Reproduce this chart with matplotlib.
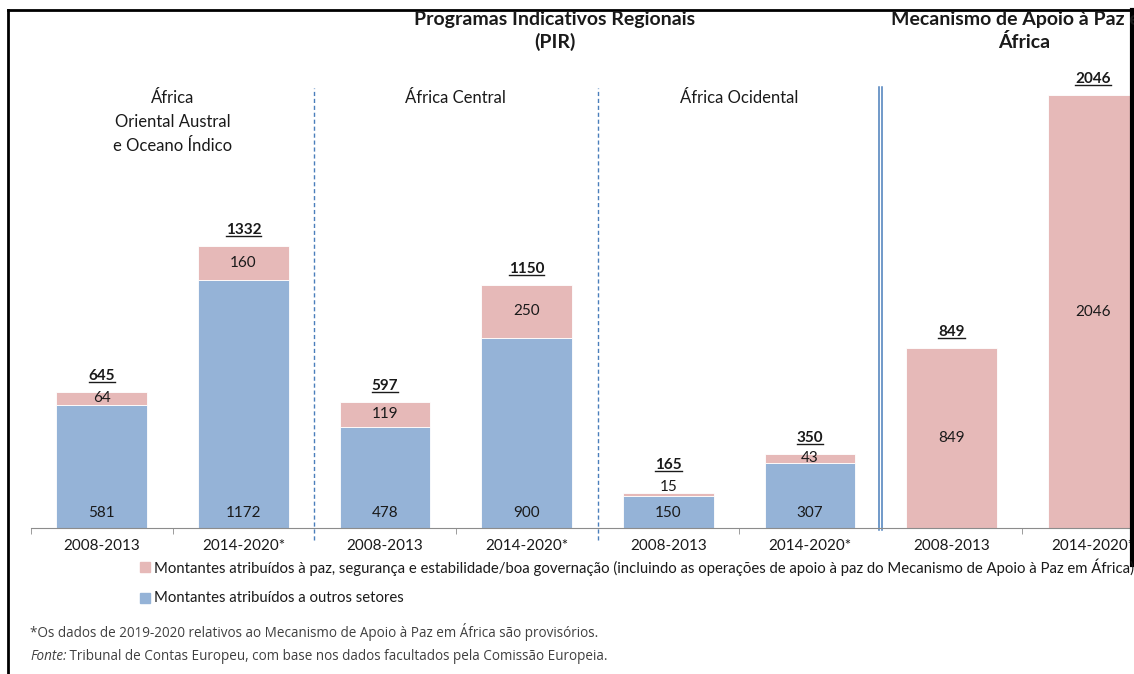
import matplotlib
matplotlib.use("Agg")
import matplotlib.pyplot as plt
from matplotlib.lines import Line2D
from matplotlib.patches import Rectangle
import numpy as np

# data
periods = ["2008-2013", "2014-2020*"] * 4
other = [581, 1172, 478, 900, 150, 307, 0, 0]
peace = [64, 160, 119, 250, 15, 43, 849, 2046]
totals = [645, 1332, 597, 1150, 165, 350, 849, 2046]
regions = ["África\nOriental Austral\ne Oceano Índico", "África Central", "África Ocidental"]
region_pos = [0.5, 2.5, 4.5]
group_titles = ["Programas Indicativos Regionais\n(PIR)", "Mecanismo de Apoio à Paz em\nÁfrica"]
legend_labels = [
    "Montantes atribuídos à paz, segurança e estabilidade/boa governação "
    "(incluindo as operações de apoio à paz do Mecanismo de Apoio à Paz em África)",
    "Montantes atribuídos a outros setores",
]
note = "*Os dados de 2019-2020 relativos ao Mecanismo de Apoio à Paz em África são provisórios."
source = " Tribunal de Contas Europeu, com base nos dados facultados pela Comissão Europeia."

blue = "#95b3d7"
pink = "#e6b9b8"
txt = "#1a1a1a"

plt.rcParams["font.family"] = ["Lato", "DejaVu Sans"]

W, H = 1134, 674
fig = plt.figure(figsize=(W / 100, H / 100), dpi=100)


def fx(px):
    return px / W


def fy(py):
    return 1 - py / H


# axes: baseline at y=528, 142 px per category, extends past right edge
ax = fig.add_axes([fx(31), fy(528), fx(1133), (528 - 10) / H])
ax.set_xlim(-0.5, 7.5)
ppu = 0.2116  # pixels per unit
ax.set_ylim(0, 518 / ppu)

x = np.arange(len(periods))
ax.bar(x, other, width=0.64, color=blue, edgecolor="white", linewidth=0.6)
ax.bar(x, peace, width=0.64, bottom=other, color=pink, edgecolor="white", linewidth=0.6)

for s in ["top", "left", "right"]:
    ax.spines[s].set_visible(False)
ax.spines["bottom"].set_color("#8c8c8c")
ax.set_yticks([])
ax.set_xticks(x)
ax.set_xticklabels(periods, fontsize=11, color=txt)
ax.tick_params(axis="x", which="major", length=0, pad=8)
ax.set_xticks([-0.5, 0.5, 2.5, 4.5, 6.5], minor=True)
ax.tick_params(axis="x", which="minor", length=4, color="#8c8c8c")

# value labels
tot_texts = []
for i in x:
    if other[i] > 0:
        ax.text(i, 15 / ppu, str(other[i]), ha="center", va="center", fontsize=11, color=txt)
    top = other[i] + peace[i]
    if peace[i] < 30:
        ypos = top + 6 / ppu
        ytot = ypos + 22 / ppu
    else:
        ypos = other[i] + peace[i] / 2
        ytot = top + 16 / ppu
    ax.text(i, ypos, str(peace[i]), ha="center", va="center", fontsize=11, color=txt)
    t = ax.text(i, ytot, str(totals[i]), ha="center", va="center",
                fontsize=11, fontweight="bold", color=txt)
    tot_texts.append(t)

# separators
for xs in [1.5, 3.5]:
    ax.plot([xs, xs], [-12 / ppu, (528 - 88) / ppu], ls=(0, (3, 2)), color="#4a7ebb",
            lw=1, clip_on=False)
for dx in [-0.011, 0.011]:
    ax.plot([5.5 + dx, 5.5 + dx], [-2 / ppu, (528 - 87) / ppu], color="#4a7ebb", lw=1.1,
            clip_on=False)

# region labels
for xp, lab in zip(region_pos, regions):
    ax.text(xp, (528 - 90) / ppu, lab, ha="center", va="top", fontsize=12, color=txt,
            linespacing=1.6)

# group titles
fig.text(fx(555), fy(11), group_titles[0], ha="center", va="top", fontsize=14,
         fontweight="bold", color=txt, linespacing=1.3)
fig.text(fx(1024), fy(11), group_titles[1], ha="center", va="top", fontsize=14,
         fontweight="bold", color=txt, linespacing=1.3)

# legend
leg_texts = []
for ly, col, lab in zip([567, 598], [pink, blue], legend_labels):
    fig.patches.append(Rectangle((fx(140), fy(ly + 5)), fx(10), 10 / H, color=col,
                                 transform=fig.transFigure))
    leg_texts.append(fig.text(fx(154), fy(ly), lab, ha="left", va="center", fontsize=11,
                              color=txt))

# notes
nt = fig.text(fx(30), fy(632), note, ha="left", va="center", fontsize=8, color="#404040",
              family="Open Sans")
ft = fig.text(fx(30), fy(657), "Fonte:", ha="left", va="center", fontsize=8,
              color="#404040", family="Open Sans", style="italic")

# fit widths to reference
fig.canvas.draw()
r = fig.canvas.get_renderer()
w = leg_texts[0].get_window_extent(r).width
s = 11 * (1128 - 154) / w
for t in leg_texts:
    t.set_fontsize(s)
w = nt.get_window_extent(r).width
ns = 8 * (603 - 30) / w
nt.set_fontsize(ns)
ft.set_fontsize(ns)
fig.canvas.draw()

# underline the totals, append source after "Fonte:"
for t in tot_texts:
    bb = t.get_window_extent(r)
    fig.add_artist(Line2D([bb.x0 / W, bb.x1 / W], [(bb.y0 + 1) / H, (bb.y0 + 1) / H],
                          color=txt, lw=1))
bb = ft.get_window_extent(r)
fig.text(bb.x1 / W, fy(657), source, ha="left", va="center", fontsize=ns, color="#404040",
         family="Open Sans")

# frame around the figure
fig.add_artist(Line2D([fx(8), fx(8)], [fy(10), 0], color="black", lw=2))
fig.add_artist(Line2D([fx(8), 1], [fy(10), fy(10)], color="black", lw=2))
fig.add_artist(Line2D([fx(1132), fx(1132)], [fy(10), fy(565)], color="black", lw=3))

fig.savefig("out.png", dpi=100)
